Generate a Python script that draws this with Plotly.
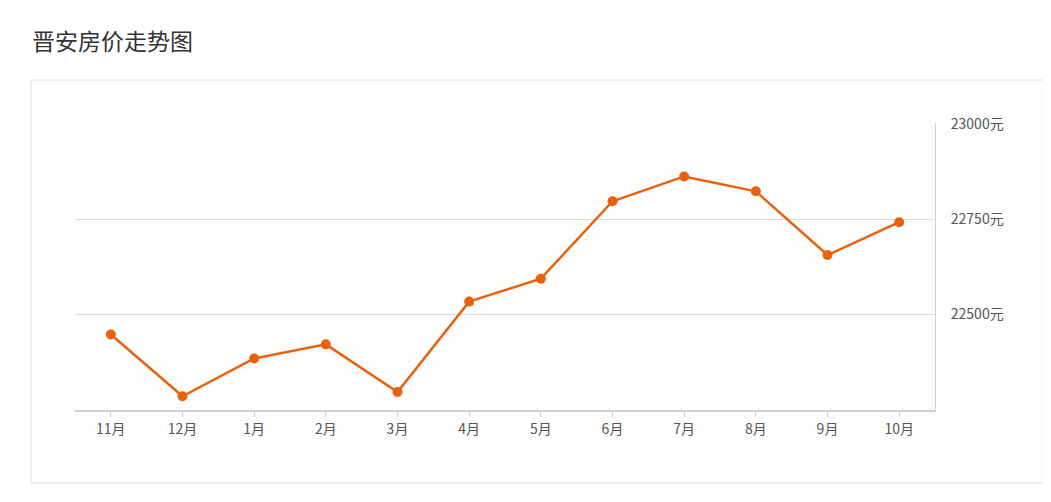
import plotly.graph_objects as go

months = ["11月","12月","1月","2月","3月","4月","5月","6月","7月","8月","9月","10月"]
prices = [22448, 22286, 22385, 22422, 22297, 22534, 22594, 22797, 22862, 22823, 22656, 22742]
yticks = [22500, 22750, 23000]
yticklabels = ["22500元", "22750元", "23000元"]

OFF = 8  # page body margin
W, H = 1051 - OFF, 502 - OFF
L, R, T, B = 75 - OFF, 935 - OFF, 123 - OFF, 410 - OFF
pw, ph = R - L, B - T

def px(x): return (x - OFF - L) / pw
def py(y): return (B - (y - OFF)) / ph

fig = go.Figure(go.Scatter(
    x=months, y=prices, mode="lines+markers",
    line=dict(color="#e8620e", width=2.5),
    marker=dict(color="#e8620e", size=10),
    hoverinfo="skip"))

fig.update_layout(
    width=W, height=H, margin=dict(l=L, r=W - R, t=T, b=H - B),
    paper_bgcolor="white", plot_bgcolor="rgba(0,0,0,0)",
    showlegend=False,
    font=dict(family="Noto Sans CJK SC", color="#555", size=14),
    xaxis=dict(type="category", range=[-0.5, 11.5], showgrid=False,
               showline=True, linecolor="#d0d0d0", linewidth=2,
               ticks="outside", ticklen=5, tickcolor="#d0d0d0", zeroline=False),
    yaxis=dict(side="right", range=[22250, 23002], tickvals=yticks,
               ticktext=yticklabels, showgrid=True, gridcolor="#dcdcdc", gridwidth=1,
               showline=True, linecolor="#d0d0d0", linewidth=1, zeroline=False,
               ticklabelstandoff=12),
    shapes=[dict(type="rect", xref="paper", yref="paper",
                 x0=px(31), x1=px(1060), y0=py(483), y1=py(80),
                 line=dict(color="#dddddd", width=1), fillcolor="#fdfdfd", layer="below")],
    annotations=[dict(text="晋安房价走势图", xref="paper", yref="paper",
                      x=px(30), y=py(40), xanchor="left", yanchor="middle",
                      showarrow=False, font=dict(size=23, color="#333"))],
)
fig.write_html("out.html")
